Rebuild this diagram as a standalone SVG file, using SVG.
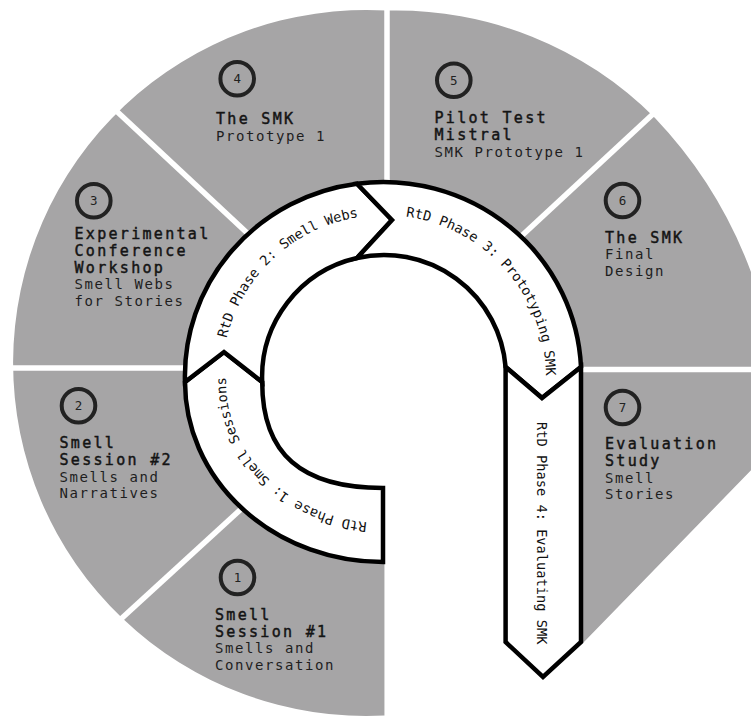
<svg xmlns="http://www.w3.org/2000/svg" width="751" height="717" viewBox="0 0 751 717">
<style>
.sec{fill:#a6a5a6}
.sep{stroke:#fff;stroke-width:5.5;fill:none}
.band{fill:#fff;stroke:#000;stroke-width:4.5;stroke-linejoin:miter}
.badge{fill:none;stroke:#222;stroke-width:4}
.num{font-family:"DejaVu Sans Mono",monospace;font-size:12.5px;fill:#222;text-anchor:middle}
.t{font-family:"DejaVu Sans Mono",monospace;font-size:15px;letter-spacing:2.3px;fill:#141414;stroke:#141414;stroke-width:0.45px}
.s{font-family:"DejaVu Sans Mono",monospace;font-size:14px;letter-spacing:1.57px;fill:#1e1e1e}
.bt{font-family:"DejaVu Sans Mono",monospace;font-size:13.7px;fill:#111}
</style>
<defs>
<clipPath id="disk"><path d="M384.5,715.5 A353,353 0 1 1 387,10.6 A365,365 0 0 1 655,118 A450,450 0 0 1 751,272 L760,272 L760,461 L583,643 L560,500 L430,420 L384.5,480 Z"/></clipPath>
<path id="p1" d="M383,523 A157,141 0 0 1 228.4,357.5"/>
<path id="p2" d="M222,377 A162,162 0 0 1 384,215"/>
<path id="p3" d="M384,215 A162,162 0 0 1 543.5,405.1"/>
</defs>

<g id="node-1">
<polygon class="sec" clip-path="url(#disk)" points="384,375 358,402 -19.6,747.6 384.5,800 384.5,420"/>
<circle class="badge" cx="237.5" cy="577.5" r="16.8"/>
<text class="num" x="237.5" y="582">1</text>
<text class="t" x="215" y="620">Smell</text>
<text class="t" x="215" y="636.7">Session #1</text>
<text class="s" x="215" y="653.3">Smells and</text>
<text class="s" x="215" y="670">Conversation</text>
</g>

<g id="node-2">
<polygon class="sec" clip-path="url(#disk)" points="384,375 340,368 -20,368 -19.6,747.6 358,402"/>
<circle class="badge" cx="78.5" cy="405.8" r="16.8"/>
<text class="num" x="78.5" y="410.3">2</text>
<text class="t" x="59.5" y="448.3">Smell</text>
<text class="t" x="59.5" y="465">Session #2</text>
<text class="s" x="59.5" y="481.7">Smells and</text>
<text class="s" x="59.5" y="498.3">Narratives</text>
</g>

<g id="node-3">
<polygon class="sec" clip-path="url(#disk)" points="384,375 363,341 -21,-17.4 -20,368 340,368"/>
<circle class="badge" cx="93.8" cy="200.7" r="16.8"/>
<text class="num" x="93.8" y="205.2">3</text>
<text class="t" x="74.5" y="239.3">Experimental</text>
<text class="t" x="74.5" y="256">Conference</text>
<text class="t" x="74.5" y="272.7">Workshop</text>
<text class="s" x="74.5" y="289.4">Smell Webs</text>
<text class="s" x="74.5" y="306.1">for Stories</text>
</g>

<g id="node-4">
<polygon class="sec" clip-path="url(#disk)" points="384,375 387,340 387,-20 -21,-17.4 363,341"/>
<circle class="badge" cx="237.2" cy="78.8" r="16.8"/>
<text class="num" x="237.2" y="83.3">4</text>
<text class="t" x="216" y="124.3">The SMK</text>
<text class="s" x="216" y="141">Prototype 1</text>
</g>

<g id="node-5">
<polygon class="sec" clip-path="url(#disk)" points="384,375 404,345 800.8,-23 387,-20 387,340"/>
<circle class="badge" cx="453.8" cy="80.2" r="16.8"/>
<text class="num" x="453.8" y="84.7">5</text>
<text class="t" x="434.5" y="123.3">Pilot Test</text>
<text class="t" x="434.5" y="140">Mistral</text>
<text class="s" x="434.5" y="156.7">SMK Prototype 1</text>
</g>

<g id="node-6">
<polygon class="sec" clip-path="url(#disk)" points="384,375 420,369.5 800,369.5 800.8,-23 404,345"/>
<circle class="badge" cx="622.5" cy="200.5" r="16.8"/>
<text class="num" x="622.5" y="205">6</text>
<text class="t" x="605" y="242.7">The SMK</text>
<text class="s" x="605" y="259.3">Final</text>
<text class="s" x="605" y="276">Design</text>
</g>

<g id="node-7">
<polygon class="sec" clip-path="url(#disk)" points="384,375 384.5,420 384.5,800 800,800 800,369.5 420,369.5"/>
<circle class="badge" cx="622.5" cy="407.5" r="16.8"/>
<text class="num" x="622.5" y="412">7</text>
<text class="t" x="605" y="449.3">Evaluation</text>
<text class="t" x="605" y="466">Study</text>
<text class="s" x="605" y="482.7">Smell</text>
<text class="s" x="605" y="499.4">Stories</text>
</g>

<g id="separators">
<line class="sep" x1="363" y1="341" x2="95" y2="91"/>
<line class="sep" x1="387" y1="340" x2="387" y2="0"/>
<line class="sep" x1="404" y1="345" x2="681.3" y2="87.8"/>
<line class="sep" x1="420" y1="369.5" x2="751" y2="369.5"/>
<line class="sep" x1="340" y1="368" x2="0" y2="368"/>
<line class="sep" x1="358" y1="402" x2="99.9" y2="638.3"/>
</g>

<path id="hole" fill="#fff" d="M383,488 C301.4,488 262.2,454.1 262.2,382 A122,122 0 0 1 357,258 A122,122 0 0 1 505.6,367 L505.6,495 L383,495 Z"/>

<g id="phase-1">
<path class="band" d="M383,488 L383,562 A198,180 0 0 1 185,382 L224,352 L262.2,382 C262.2,454.1 301.4,488 383,488 Z"/>
<text class="bt"><textPath href="#p1" startOffset="16">RtD Phase 1: Smell Sessions</textPath></text>
</g>

<g id="phase-2">
<path class="band" d="M185,382 A198,194 0 0 1 357,183.7 L392,220 L357,258 A122,122 0 0 0 262.2,382 L224,352 Z"/>
<text class="bt"><textPath href="#p2" startOffset="39">RtD Phase 2: Smell Webs</textPath></text>
</g>

<g id="phase-3">
<path class="band" d="M357,183.7 A198,194 0 0 1 581,367 L542,398 L505.6,367 A122,122 0 0 0 357,258 L392,220 Z"/>
<text class="bt"><textPath href="#p3" startOffset="22">RtD Phase 3: Prototyping SMK</textPath></text>
</g>

<g id="phase-4">
<path class="band" d="M505.6,367 L542,398 L581,367 L581,642 L543,677 L505.6,642 Z"/>
<text class="bt" transform="translate(537,422) rotate(90)">RtD Phase 4: Evaluating SMK</text>
</g>
</svg>
